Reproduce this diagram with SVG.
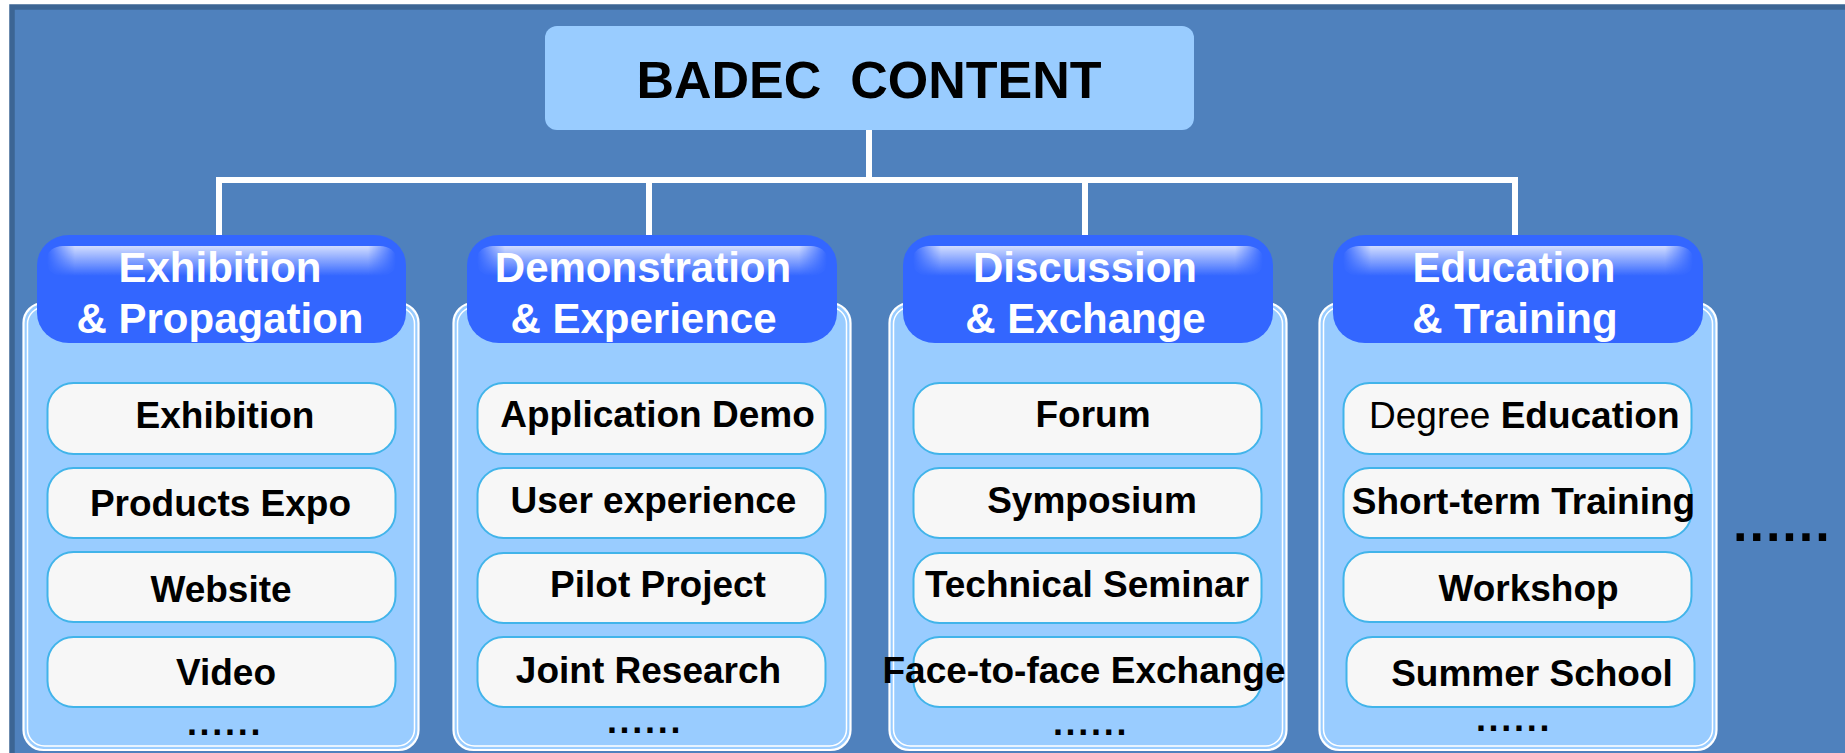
<svg xmlns="http://www.w3.org/2000/svg" width="1845" height="753" viewBox="0 0 1845 753">
  <defs>
    <linearGradient id="gloss" x1="0" y1="0" x2="0" y2="1">
      <stop offset="0" stop-color="#FFFFFF" stop-opacity="0.78"/>
      <stop offset="1" stop-color="#FFFFFF" stop-opacity="0"/>
    </linearGradient>
    <linearGradient id="glossH" x1="0" y1="0" x2="1" y2="0">
      <stop offset="0" stop-color="#FFFFFF" stop-opacity="0"/>
      <stop offset="0.08" stop-color="#FFFFFF" stop-opacity="1"/>
      <stop offset="0.92" stop-color="#FFFFFF" stop-opacity="1"/>
      <stop offset="1" stop-color="#FFFFFF" stop-opacity="0"/>
    </linearGradient>
    <mask id="glossMask" maskContentUnits="objectBoundingBox">
      <rect x="0" y="0" width="1" height="1" fill="url(#glossH)"/>
    </mask>
  </defs>
  <style>
    .bg { fill: #4F81BD; stroke: #3C6594; stroke-width: 5.5; }
    .topbox { fill: #99CCFF; }
    .title { font-family: "Liberation Sans", Arial, sans-serif; font-weight: bold; font-size: 52px; fill: #000000; white-space: pre; }
    .conn { fill: none; stroke: #FFFFFF; stroke-width: 6; stroke-linejoin: miter; }
    .panel { fill: #99CCFF; stroke: #FFFFFF; stroke-width: 2.2; }
    .panel-inner { fill: none; stroke: #FFFFFF; stroke-width: 1.5; }
    .pill { fill: #3366FF; }
    .pill-edge { fill: none; stroke: #C9D6FF; stroke-width: 1.2; stroke-opacity: 0.7; }
    .gloss { fill: url(#gloss); }
    .head { font-family: "Liberation Sans", Arial, sans-serif; font-weight: bold; font-size: 42px; fill: #FFFFFF; text-anchor: middle; }
    .item { fill: #F7F7F7; stroke: #41B4EA; stroke-width: 2; }
    .itxt { font-family: "Liberation Sans", Arial, sans-serif; font-weight: bold; font-size: 37px; fill: #000000; text-anchor: middle; }
    .dots { font-family: "Liberation Sans", Arial, sans-serif; font-weight: bold; font-size: 36px; fill: #000000; text-anchor: middle; letter-spacing: 2.7px; }
    .dotsbig { font-family: "Liberation Sans", Arial, sans-serif; font-weight: bold; font-size: 52px; fill: #000000; letter-spacing: 2px; }
  </style>

  <rect class="bg" x="12" y="7" width="1900" height="800"/>

  <g id="connectors">
    <line class="conn" x1="869" y1="129" x2="869" y2="180"/>
    <path class="conn" d="M219,235 V180 H1515 V235"/>
    <line class="conn" x1="649" y1="180" x2="649" y2="235"/>
    <line class="conn" x1="1085" y1="180" x2="1085" y2="235"/>
  </g>

  <g id="badec-content">
    <rect class="topbox" x="545" y="26" width="649" height="104" rx="12" ry="12"/>
    <text class="title" x="869" y="98" text-anchor="middle" xml:space="preserve">BADEC  CONTENT</text>
  </g>

  <!-- Column 1 -->
  <g id="exhibition-propagation">
    <rect class="panel" x="23.5" y="303" width="395" height="447" rx="20" ry="20"/>
    <rect class="panel-inner" x="27.5" y="307" width="387" height="439" rx="17" ry="17"/>
    <rect class="pill" x="37" y="235" width="369" height="108" rx="32" ry="30"/>
    <rect class="gloss" x="47" y="246" width="349" height="30" rx="16" ry="12" mask="url(#glossMask)"/>
    <text class="head" x="220" y="282">Exhibition</text>
    <text class="head" x="220" y="333">&amp; Propagation</text>
    <g id="c1-items">
      <rect class="item" x="47.5" y="383" width="348" height="71" rx="26" ry="26"/>
      <text class="itxt" x="225" y="428">Exhibition</text>
      <rect class="item" x="47.5" y="468" width="348" height="70" rx="26" ry="26"/>
      <text class="itxt" x="220.5" y="516">Products Expo</text>
      <rect class="item" x="47.5" y="552" width="348" height="70" rx="26" ry="26"/>
      <text class="itxt" x="221" y="602">Website</text>
      <rect class="item" x="47.5" y="637" width="348" height="70" rx="26" ry="26"/>
      <text class="itxt" x="226" y="685">Video</text>
      <text class="dots" x="225" y="735">......</text>
    </g>
  </g>

  <!-- Column 2 -->
  <g id="demonstration-experience">
    <rect class="panel" x="453.5" y="303" width="397" height="447" rx="20" ry="20"/>
    <rect class="panel-inner" x="457.5" y="307" width="389" height="439" rx="17" ry="17"/>
    <rect class="pill" x="467" y="235" width="370" height="108" rx="32" ry="30"/>
    <rect class="gloss" x="477" y="246" width="350" height="30" rx="16" ry="12" mask="url(#glossMask)"/>
    <text class="head" x="643" y="282">Demonstration</text>
    <text class="head" x="643.5" y="333">&amp; Experience</text>
    <g id="c2-items">
      <rect class="item" x="477.5" y="383" width="348" height="71" rx="26" ry="26"/>
      <text class="itxt" x="657.5" y="427">Application Demo</text>
      <rect class="item" x="477.5" y="468" width="348" height="70" rx="26" ry="26"/>
      <text class="itxt" x="653.5" y="513">User experience</text>
      <rect class="item" x="477.5" y="553" width="348" height="70" rx="26" ry="26"/>
      <text class="itxt" x="658" y="597">Pilot Project</text>
      <rect class="item" x="477.5" y="637" width="348" height="70" rx="26" ry="26"/>
      <text class="itxt" x="648.5" y="683">Joint Research</text>
      <text class="dots" x="645" y="733">......</text>
    </g>
  </g>

  <!-- Column 3 -->
  <g id="discussion-exchange">
    <rect class="panel" x="889.5" y="303" width="397" height="447" rx="20" ry="20"/>
    <rect class="panel-inner" x="893.5" y="307" width="389" height="439" rx="17" ry="17"/>
    <rect class="pill" x="903" y="235" width="370" height="108" rx="32" ry="30"/>
    <rect class="gloss" x="913" y="246" width="350" height="30" rx="16" ry="12" mask="url(#glossMask)"/>
    <text class="head" x="1085" y="282">Discussion</text>
    <text class="head" x="1085.5" y="333">&amp; Exchange</text>
    <g id="c3-items">
      <rect class="item" x="913.5" y="383" width="348" height="71" rx="26" ry="26"/>
      <text class="itxt" x="1093" y="427">Forum</text>
      <rect class="item" x="913.5" y="468" width="348" height="70" rx="26" ry="26"/>
      <text class="itxt" x="1092" y="513">Symposium</text>
      <rect class="item" x="913.5" y="553" width="348" height="70" rx="26" ry="26"/>
      <text class="itxt" x="1087" y="597">Technical Seminar</text>
      <rect class="item" x="913.5" y="637" width="348" height="70" rx="26" ry="26"/>
      <text class="itxt" x="1084" y="683">Face-to-face Exchange</text>
      <text class="dots" x="1091" y="735">......</text>
    </g>
  </g>

  <!-- Column 4 -->
  <g id="education-training">
    <rect class="panel" x="1319.5" y="303" width="397" height="447" rx="20" ry="20"/>
    <rect class="panel-inner" x="1323.5" y="307" width="389" height="439" rx="17" ry="17"/>
    <rect class="pill" x="1333" y="235" width="370" height="108" rx="32" ry="30"/>
    <rect class="gloss" x="1343" y="246" width="350" height="30" rx="16" ry="12" mask="url(#glossMask)"/>
    <text class="head" x="1514" y="282">Education</text>
    <text class="head" x="1515" y="333">&amp; Training</text>
    <g id="c4-items">
      <rect class="item" x="1343.5" y="383" width="348" height="71" rx="26" ry="26"/>
      <text class="itxt" x="1369" y="428" text-anchor="start" style="text-anchor:start" xml:space="preserve"><tspan font-weight="normal">Degree </tspan><tspan font-weight="bold">Education</tspan></text>
      <rect class="item" x="1343.5" y="468" width="348" height="70" rx="26" ry="26"/>
      <text class="itxt" x="1523.5" y="514">Short-term Training</text>
      <rect class="item" x="1343.5" y="552" width="348" height="70" rx="26" ry="26"/>
      <text class="itxt" x="1528.5" y="601">Workshop</text>
      <rect class="item" x="1346.5" y="637" width="348" height="70" rx="26" ry="26"/>
      <text class="itxt" x="1532" y="686">Summer School</text>
      <text class="dots" x="1514" y="731">......</text>
    </g>
  </g>

  <g id="more">
    <text class="dotsbig" x="1733" y="541">......</text>
  </g>
</svg>
